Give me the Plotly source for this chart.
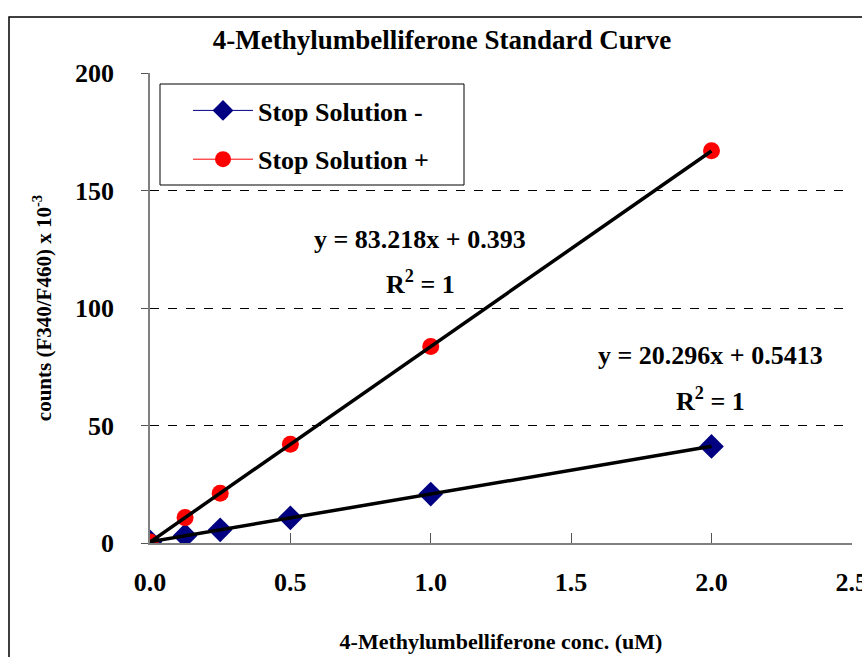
import plotly.graph_objects as go

# ---- data ----
conc = [0.0, 0.125, 0.25, 0.5, 1.0, 2.0]
stop_minus = [0.5, 3.1, 5.6, 10.7, 20.8, 41.1]
stop_plus = [0.4, 10.8, 21.2, 42.0, 83.6, 166.9]
series_names = ["Stop Solution -", "Stop Solution +"]
fit_slopes = [20.296, 83.218]
fit_intercepts = [0.5413, 0.393]
fit_labels = ["y = 20.296x + 0.5413", "y = 83.218x + 0.393"]
x_ticks = [0.0, 0.5, 1.0, 1.5, 2.0, 2.5]
y_ticks = [0, 50, 100, 150, 200]

FONT = "Liberation Serif"
W, H = 862, 657
L, R, T, B = 150, 10, 73, 114
PW, PH = W - L - R, H - T - B

def px(xp):
    return (xp - L) / PW

def py(yp):
    return (H - B - yp) / PH

fig = go.Figure()

fig.add_trace(go.Scatter(
    x=conc, y=stop_minus, name=series_names[0], mode="lines+markers",
    line=dict(color="#000080", width=1),
    marker=dict(symbol="diamond", size=19, color="#000080"),
    legendgroup="a"))
fig.add_trace(go.Scatter(
    x=conc, y=stop_plus, name=series_names[1], mode="lines+markers",
    line=dict(color="#FF0000", width=1),
    marker=dict(symbol="circle", size=17, color="#FF0000"),
    legendgroup="b"))

x_end = [conc[0], conc[-1]]
for m, b in zip(fit_slopes, fit_intercepts):
    fig.add_trace(go.Scatter(
        x=x_end, y=[m * xx + b for xx in x_end], mode="lines",
        line=dict(color="black", width=3.5), showlegend=False, hoverinfo="skip"))

bold = dict(family=FONT, size=26, color="black", weight="bold")

# equation annotations
ann_pos = [(1.996, 79.6, 60.9), (0.962, 129.0, 111.0)]
for (ax_, ay1, ay2), lab in zip(ann_pos, fit_labels):
    fig.add_annotation(x=ax_, y=ay1, text="<b>" + lab + "</b>", showarrow=False,
                       font=bold, xanchor="center", yanchor="middle")
    fig.add_annotation(x=ax_, y=ay2, text="<b>R<sup>2</sup> = 1</b>", showarrow=False,
                       font=bold, xanchor="center", yanchor="middle")

# outer chart border and legend box
fig.add_shape(type="rect", xref="paper", yref="paper",
              x0=px(9), x1=1.3, y0=-0.6, y1=py(17),
              line=dict(color="black", width=1.5), fillcolor="rgba(0,0,0,0)", layer="below")
fig.add_shape(type="rect", xref="paper", yref="paper",
              x0=px(160), x1=px(464), y0=py(185), y1=py(84),
              line=dict(color="black", width=1), fillcolor="white", layer="above")

fig.update_layout(
    width=W, height=H,
    margin=dict(l=L, r=R, t=T, b=B, autoexpand=False),
    paper_bgcolor="white", plot_bgcolor="white",
    font=dict(family=FONT, color="black"),
    title=dict(text="<b>4-Methylumbelliferone Standard Curve</b>",
               font=dict(family=FONT, size=27, color="black"),
               x=442 / W, xref="container", xanchor="center",
               y=1 - 40 / H, yref="container", yanchor="middle"),
    legend=dict(x=px(188), y=py(87), xanchor="left", yanchor="top",
                bgcolor="rgba(0,0,0,0)", borderwidth=0,
                font=dict(family=FONT, size=26, color="black", weight="bold"),
                traceorder="grouped", tracegroupgap=12, itemwidth=60),
    xaxis=dict(range=[0, 2.5005], tickvals=x_ticks, tickformat=".1f",
               ticks="inside", ticklen=10, tickcolor="#555555", tickwidth=1,
               showline=True, linecolor="#808080", linewidth=1.5,
               showgrid=False, zeroline=False, ticklabelstandoff=15,
               ticklabeloverflow="allow",
               tickfont=dict(family=FONT, size=26, color="black", weight="bold"),
               title=dict(text="<b>4-Methylumbelliferone conc. (uM)</b>",
                          font=dict(family=FONT, size=22, color="black"), standoff=38)),
    yaxis=dict(range=[0, 200], tickvals=y_ticks,
               ticks="outside", ticklen=7, tickcolor="#555555", tickwidth=1,
               showline=True, linecolor="#808080", linewidth=1.5,
               showgrid=True, gridcolor="black", gridwidth=1, griddash="dash",
               zeroline=False, ticklabelstandoff=22,
               tickfont=dict(family=FONT, size=26, color="black", weight="bold"),
               title=dict(text="<b>counts (F340/F460) x 10<sup>-3</sup></b>",
                          font=dict(family=FONT, size=21, color="black"), standoff=18)),
)

fig.write_html("out.html", config={"displayModeBar": False},
               post_script="document.body.style.margin='0px';document.body.style.overflow='hidden';")
